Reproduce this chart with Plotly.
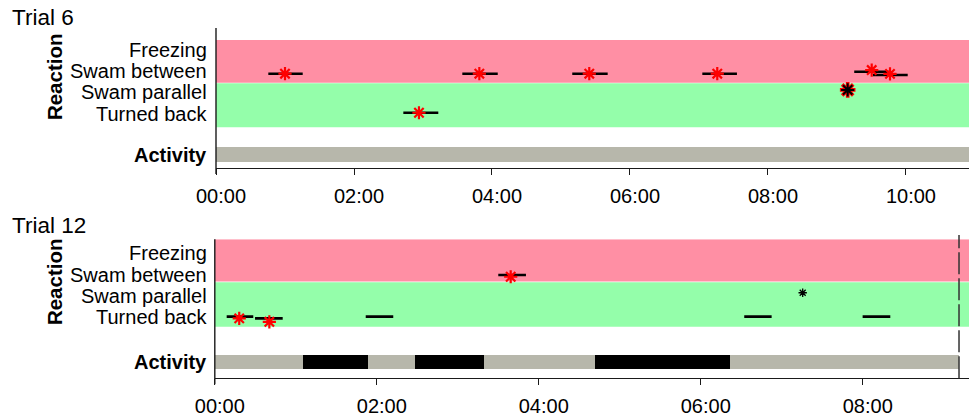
import plotly.graph_objects as go

W, H = 969, 419
FONT = "Liberation Sans, Arial, sans-serif"

# ---- categories -------------------------------------------------------
ROWS = ["Turned back", "Swam parallel", "Swam between", "Freezing"]
ROW_POS = [1, 2, 3, 4]
ACTIVITY_LABEL = "Activity"

# ---- Trial 6 (times in seconds) ---------------------------------------
T6_TICKS = [0, 120, 240, 360, 480, 600]
T6_WIN_START = [45.5, 214.2, 309.8, 162.9, 422.9, 555.0, 571.3]
T6_WIN_END = [75.4, 245.0, 340.6, 193.3, 453.0, 584.9, 601.5]
T6_WIN_LEVEL = [2.88, 2.88, 2.88, 1.05, 2.88, 2.97, 2.82]
T6_STAR_T = [60.0, 229.0, 324.6, 176.5, 435.9, 570.2, 586.1]
T6_STAR_LEVEL = [2.88, 2.88, 2.88, 1.05, 2.88, 3.05, 2.87]
T6_MARK_T = [549.3]
T6_MARK_LEVEL = [2.12]
T6_ACT_BOUNDS = [0, 660]
T6_ACT_STATE = ["rest"]

# ---- Trial 12 (times in seconds) --------------------------------------
T12_TICKS = [0, 120, 240, 360, 480]
T12_WIN_START = [8.8, 29.8, 111.8, 210.0, 392.2, 479.9]
T12_WIN_END = [28.5, 50.3, 132.2, 230.5, 412.5, 500.4]
T12_WIN_LEVEL = [1.03, 0.95, 1.03, 2.98, 1.03, 1.03]
T12_STAR_T = [18.1, 40.4, 219.2]
T12_STAR_LEVEL = [0.95, 0.79, 2.90]
T12_MARK_T = [435.5]
T12_MARK_LEVEL = [2.15]
T12_ACT_BOUNDS = [0, 65.1, 113.3, 148.3, 198.9, 281.6, 381.4, 551.3]
T12_ACT_STATE = ["rest", "active", "rest", "active", "rest", "active", "rest"]
T12_END = 551.3

# ---- styling ----------------------------------------------------------
PINK = "#FF8FA4"
GREEN = "#94FEAA"
ACT_COLORS = {"rest": "#B7B7AB", "active": "#000000"}
AXIS_COLOR = "#1a1a1a"
STAR_RED = "#FF0000"


def px_x(p):
    return p / W


def px_y(p):
    return 1 - p / H


def mmss(sec):
    return f"{int(sec // 60):02d}:{int(sec % 60):02d}"


panels = [
    dict(name="Trial 6", xa="x", ya="y", xaxis="xaxis", yaxis="yaxis",
         left=216.0, top=28.0, bottom=168.0, xmax=654.8, yr=(-1.541, 5.022),
         title_y=17.2, reaction_y=76.5,
         pink=(2.46, 4.46), green=(0.37, 2.43), act_y=-0.925, act_w=0.70,
         ticks=T6_TICKS, win=(T6_WIN_START, T6_WIN_END, T6_WIN_LEVEL),
         stars=(T6_STAR_T, T6_STAR_LEVEL),
         act=(T6_ACT_BOUNDS, T6_ACT_STATE), end=None),
    dict(name="Trial 12", xa="x2", ya="y2", xaxis="xaxis2", yaxis="yaxis2",
         left=214.8, top=239.3, bottom=378.3, xmax=558.7, yr=(-1.86, 4.657),
         title_y=225.0, reaction_y=281.5,
         pink=(2.68, 4.66), green=(0.56, 2.64), act_y=-1.105, act_w=0.67,
         ticks=T12_TICKS, win=(T12_WIN_START, T12_WIN_END, T12_WIN_LEVEL),
         stars=(T12_STAR_T, T12_STAR_LEVEL),
         act=(T12_ACT_BOUNDS, T12_ACT_STATE), end=T12_END),
]

fig = go.Figure()
shapes, annotations = [], []

for p in panels:
    xa, ya = p["xa"], p["ya"]

    # activity bar segments
    bounds, states = p["act"]
    fig.add_trace(go.Bar(
        orientation="h", y=[p["act_y"]] * len(states),
        base=bounds[:-1], x=[b - a for a, b in zip(bounds[:-1], bounds[1:])],
        width=p["act_w"], marker=dict(color=[ACT_COLORS[s] for s in states], line_width=0),
        xaxis=xa, yaxis=ya, showlegend=False, hoverinfo="skip"))

    # reaction windows
    starts, ends, levels = p["win"]
    xs, ys = [], []
    for s, e, lv in zip(starts, ends, levels):
        xs += [s, e, None]
        ys += [lv, lv, None]
    fig.add_trace(go.Scatter(x=xs, y=ys, mode="lines", line=dict(color="black", width=2.6),
                             xaxis=xa, yaxis=ya, showlegend=False, hoverinfo="skip"))

    # reaction events
    st, sl = p["stars"]
    fig.add_trace(go.Scatter(x=st, y=sl, mode="markers",
                             marker=dict(symbol="asterisk-open", size=11, color=STAR_RED,
                                         line=dict(color=STAR_RED, width=2.2)),
                             xaxis=xa, yaxis=ya, showlegend=False, hoverinfo="skip"))

    # bands
    shapes.append(dict(type="rect", xref=f"{xa} domain", yref=ya, x0=0, x1=1,
                       y0=p["pink"][0], y1=p["pink"][1], fillcolor=PINK, line_width=0, layer="below"))
    shapes.append(dict(type="rect", xref=f"{xa} domain", yref=ya, x0=0, x1=1,
                       y0=p["green"][0], y1=p["green"][1], fillcolor=GREEN, line_width=0, layer="below"))

    # left axis line, running past the time axis by a tick length
    shapes.append(dict(type="line", xref="paper", yref="paper",
                       x0=px_x(p["left"]), x1=px_x(p["left"]),
                       y0=px_y(p["bottom"] + 6), y1=px_y(p["top"]),
                       line=dict(color=AXIS_COLOR, width=1.4)))

    # axes
    fig.update_layout(**{
        p["xaxis"]: dict(domain=[px_x(p["left"]), 1], range=[0, p["xmax"]], anchor=ya,
                         tickvals=p["ticks"], ticktext=[mmss(t) for t in p["ticks"]],
                         ticks="outside", ticklen=6, tickwidth=1, tickcolor=AXIS_COLOR,
                         showline=True, linecolor=AXIS_COLOR, linewidth=1,
                         showgrid=False, zeroline=False, ticklabelshift=5,
                         ticklabelstandoff=4, automargin=False,
                         tickfont=dict(family=FONT, size=20, color="black"), fixedrange=True),
        p["yaxis"]: dict(domain=[px_y(p["bottom"]), px_y(p["top"])], range=list(p["yr"]),
                         anchor=xa, showticklabels=False, showgrid=False, zeroline=False,
                         showline=False, ticks="", fixedrange=True, automargin=False),
    })

    # row labels
    for label, pos in zip(ROWS, ROW_POS):
        annotations.append(dict(text=label, xref="paper", yref=ya, x=px_x(209), y=pos,
                                xanchor="right", yanchor="middle", showarrow=False,
                                font=dict(family=FONT, size=20, color="black")))
    annotations.append(dict(text=f"<b>{ACTIVITY_LABEL}</b>", xref="paper", yref=ya,
                            x=px_x(209), y=p["act_y"], xanchor="right", yanchor="middle",
                            showarrow=False, font=dict(family=FONT, size=20, color="black")))
    annotations.append(dict(text="<b>Reaction</b>", xref="paper", yref="paper",
                            x=px_x(54.6), y=px_y(p["reaction_y"]), textangle=-90,
                            xanchor="center", yanchor="middle", showarrow=False,
                            font=dict(family=FONT, size=20.5, color="black")))
    annotations.append(dict(text=p["name"], xref="paper", yref="paper",
                            x=px_x(10), y=px_y(p["title_y"]), xanchor="left", yanchor="middle",
                            showarrow=False, font=dict(family=FONT, size=22.5, color="black")))

    if p["end"] is not None:
        shapes.append(dict(type="line", xref=xa, yref=f"{ya} domain", x0=p["end"], x1=p["end"],
                           y0=0, y1=1.031, line=dict(color="#333333", width=1.5, dash="22px,4px")))

# Trial 6: event seen as both turn and parallel swim (red under black)
fig.add_trace(go.Scatter(x=T6_MARK_T, y=T6_MARK_LEVEL, mode="markers",
                         marker=dict(symbol="asterisk-open", size=13, color=STAR_RED,
                                     line=dict(color=STAR_RED, width=3.6)),
                         xaxis="x", yaxis="y", showlegend=False, hoverinfo="skip"))
fig.add_trace(go.Scatter(x=T6_MARK_T, y=T6_MARK_LEVEL, mode="markers",
                         marker=dict(symbol="asterisk-open", size=11, color="black",
                                     line=dict(color="black", width=2.0)),
                         xaxis="x", yaxis="y", showlegend=False, hoverinfo="skip"))
# Trial 12: small unmarked event
fig.add_trace(go.Scatter(x=T12_MARK_T, y=T12_MARK_LEVEL, mode="markers",
                         marker=dict(symbol="asterisk-open", size=7, color="black",
                                     line=dict(color="black", width=1.3)),
                         xaxis="x2", yaxis="y2", showlegend=False, hoverinfo="skip"))

fig.update_layout(
    width=W, height=H, margin=dict(l=0, r=0, t=0, b=0, pad=0, autoexpand=False),
    paper_bgcolor="white", plot_bgcolor="rgba(0,0,0,0)",
    barmode="overlay", bargap=0, showlegend=False,
    shapes=shapes, annotations=annotations,
    font=dict(family=FONT, color="black"),
)

fig.write_html("out.html", config={"displayModeBar": False})
